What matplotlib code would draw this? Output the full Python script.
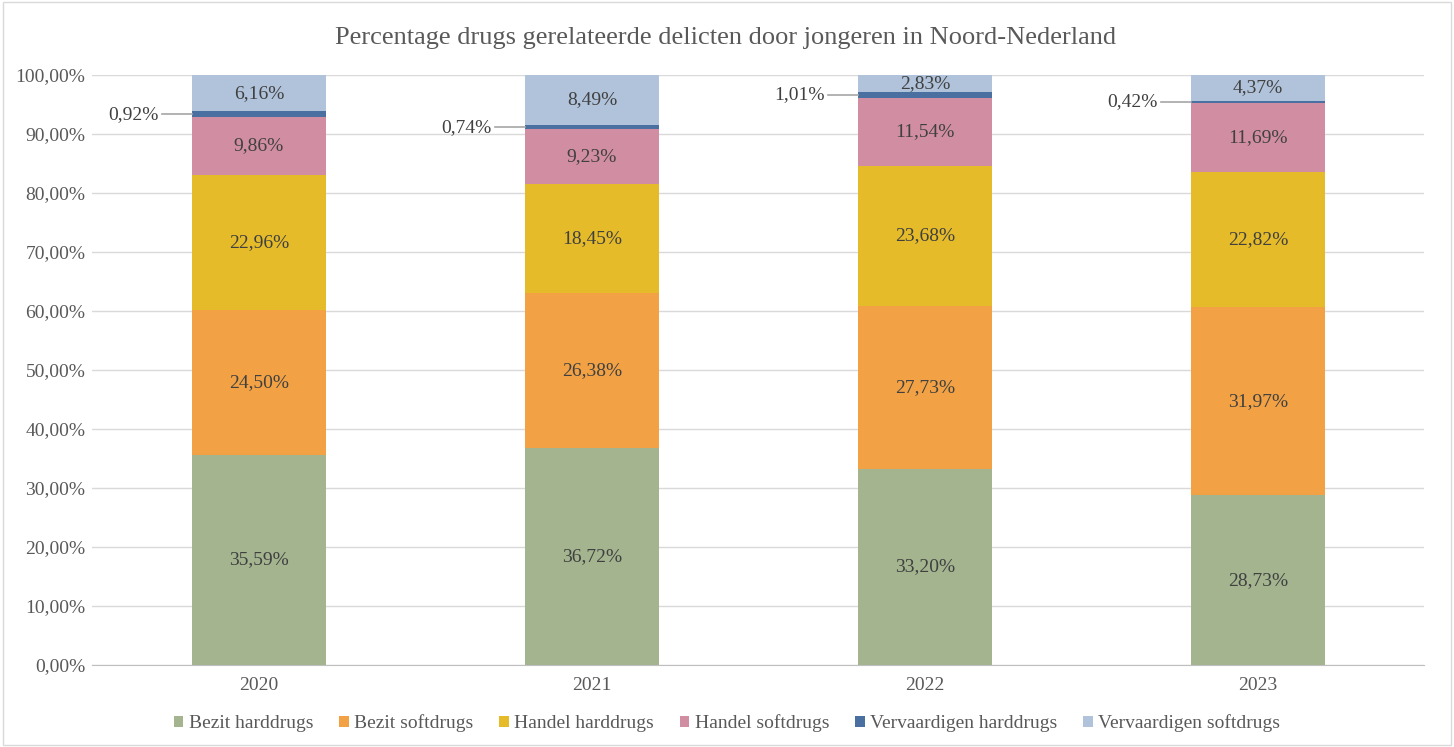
import numpy as np
import matplotlib.pyplot as plt
from matplotlib.patches import Rectangle
from matplotlib.ticker import FuncFormatter

plt.rcParams['font.family'] = ['Liberation Serif', 'DejaVu Serif']

years = ['2020', '2021', '2022', '2023']
bezit_hard = [35.59, 36.72, 33.20, 28.73]
bezit_soft = [24.50, 26.38, 27.73, 31.97]
handel_hard = [22.96, 18.45, 23.68, 22.82]
handel_soft = [9.86, 9.23, 11.54, 11.69]
vervaardigen_hard = [0.92, 0.74, 1.01, 0.42]
vervaardigen_soft = [6.16, 8.49, 2.83, 4.37]

series = [
    ('Bezit harddrugs', bezit_hard, '#a3b48f'),
    ('Bezit softdrugs', bezit_soft, '#f2a245'),
    ('Handel harddrugs', handel_hard, '#e5bb2a'),
    ('Handel softdrugs', handel_soft, '#d18ea2'),
    ('Vervaardigen harddrugs', vervaardigen_hard, '#4a70a2'),
    ('Vervaardigen softdrugs', vervaardigen_soft, '#b0c3da'),
]

text_col = '#404040'
grey_col = '#595959'
fmt = lambda v: f"{v:.2f}".replace('.', ',') + '%'

fig = plt.figure(figsize=(14.54, 7.47), dpi=100)
ax = fig.add_axes([0.0636, 0.1098, 0.9161, 0.7898])

x = np.arange(len(years))
width = 0.4
bottom = np.zeros(len(years))
for name, vals, col in series:
    vals = np.array(vals)
    ax.bar(x, vals, width, bottom=bottom, color=col, label=name, zorder=3)
    for i, v in enumerate(vals):
        yc = bottom[i] + v / 2
        if name == 'Vervaardigen harddrugs':
            # leader line to the left of the bar
            xe = x[i] - width / 2
            xs = xe - 0.09
            ax.plot([xs, xe], [yc, yc], color='#a6a6a6', lw=1.2, zorder=4, clip_on=False)
            ax.text(xs - 0.012, yc, fmt(v), ha='right', va='center', fontsize=14, color=text_col)
        else:
            ax.text(x[i], yc, fmt(v), ha='center', va='center', fontsize=14, color=text_col, zorder=5)
    bottom += vals

ax.set_xlim(-0.5, len(years) - 0.5)
ax.set_ylim(0, 100)
ax.set_yticks(np.arange(0, 101, 10))
ax.yaxis.set_major_formatter(FuncFormatter(lambda v, p: fmt(v)))
ax.set_xticks(x)
ax.set_xticklabels(years)
ax.tick_params(axis='both', length=0, labelsize=14, labelcolor=grey_col)
ax.tick_params(axis='x', pad=9)
ax.tick_params(axis='y', pad=5)
ax.grid(axis='y', color='#d9d9d9', lw=1, zorder=0)
for s in ['top', 'right', 'left']:
    ax.spines[s].set_visible(False)
ax.spines['bottom'].set_color('#bfbfbf')

fig.text(0.499, 0.949, 'Percentage drugs gerelateerde delicten door jongeren in Noord-Nederland',
         fontsize=19, color=grey_col, ha='center', va='center')

fig.legend(loc='lower center', bbox_to_anchor=(0.5, -0.004), ncol=6, frameon=False,
           fontsize=14, handlelength=0.5, handleheight=0.5, handletextpad=0.3,
           columnspacing=1.3, labelcolor=grey_col)

fig.patches.append(Rectangle((0.002, 0.003), 0.996, 0.994, transform=fig.transFigure,
                             fill=False, edgecolor='#d9d9d9', lw=1))

fig.savefig('out.png', dpi=100)
